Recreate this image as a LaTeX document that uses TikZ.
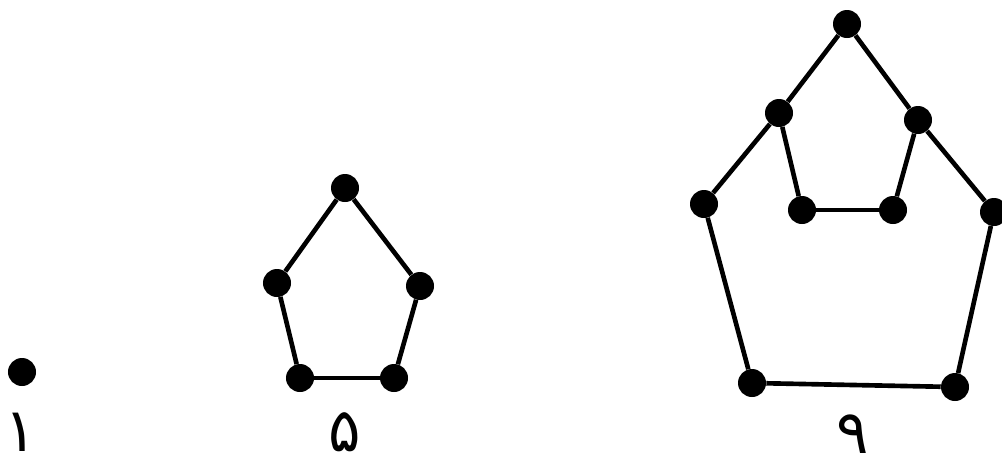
\documentclass[tikz,border=0pt]{standalone}
\usepackage{fontspec}
\usepackage{tikz}
\newfontfamily\arabicfont[Script=Arabic]{DejaVu Sans}
\TeXXeTstate=1

\begin{document}
\begin{tikzpicture}[x=0.025cm, y=-0.025cm,
  punto/.style={circle, fill=black, inner sep=0pt, minimum size=0.7cm},
  etiqueta/.style={font=\arabicfont\fontsize{43}{43}\selectfont, inner sep=0pt, anchor=base},
  arista/.style={line width=3.3pt}]
  \useasboundingbox (0,0) rectangle (1002,469);

  % uno
  \node[punto] (U) at (22,372) {};
  \node[etiqueta] (LU) at (21,451) {\beginR ۱\endR};

  % cinco
  \node[punto] (A) at (345,188) {};
  \node[punto] (B) at (277,283) {};
  \node[punto] (C) at (420,286) {};
  \node[punto] (D) at (300,378) {};
  \node[punto] (E) at (394,378) {};
  \node[etiqueta] (LC) at (345,451) {\beginR ۵\endR};

  \draw[arista] (A) -- (B);
  \draw[arista] (A) -- (C);
  \draw[arista] (B) -- (D);
  \draw[arista] (C) -- (E);
  \draw[arista] (D) -- (E);

  % nueve
  \node[punto] (N1) at (847,24)  {};
  \node[punto] (N2) at (779,113) {};
  \node[punto] (N3) at (918,120) {};
  \node[punto] (N4) at (704,204) {};
  \node[punto] (N5) at (802,210) {};
  \node[punto] (N6) at (893,210) {};
  \node[punto] (N7) at (994,212) {};
  \node[punto] (N8) at (752,383) {};
  \node[punto] (N9) at (955,387) {};
  \node[etiqueta] (LN) at (853,453) {\beginR ۹\endR};

  \draw[arista] (N1) -- (N2);
  \draw[arista] (N1) -- (N3);
  \draw[arista] (N2) -- (N4);
  \draw[arista] (N3) -- (N7);
  \draw[arista] (N2) -- (N5);
  \draw[arista] (N3) -- (N6);
  \draw[arista] (N5) -- (N6);
  \draw[arista] (N4) -- (N8);
  \draw[arista] (N7) -- (N9);
  \draw[arista] (N8) -- (N9);
\end{tikzpicture}
\end{document}
